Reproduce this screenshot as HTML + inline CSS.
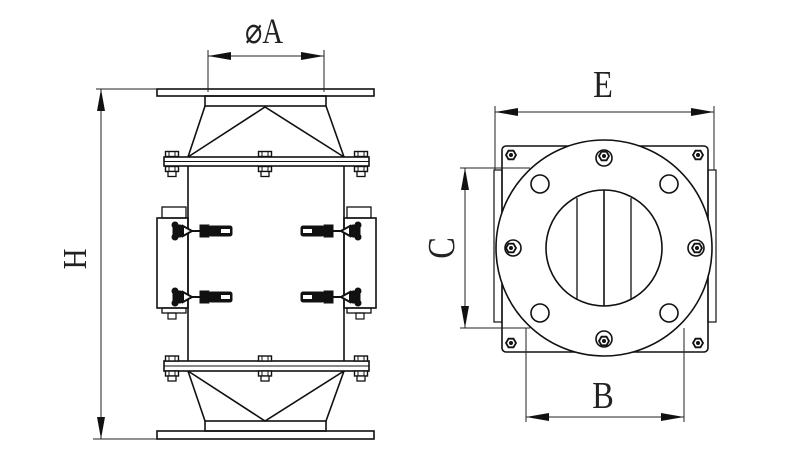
<!DOCTYPE html>
<html><head><meta charset="utf-8"><style>
html,body{margin:0;padding:0;background:#fff;}
svg{display:block;}
text{font-family:"Liberation Serif",serif;fill:#222;}
</style></head><body>
<svg width="800" height="451" viewBox="0 0 800 451" xmlns="http://www.w3.org/2000/svg">
<defs>
<g id="clampL" fill="#111" stroke="#111">
  <rect x="0" y="-6" width="10" height="12" rx="3"/>
  <circle cx="2" cy="-6" r="3"/><circle cx="2" cy="6" r="3"/>
  <path d="M10 -5 L19 0 L10 5 Z" fill="#fff" stroke-width="2"/>
  <line x1="19" y1="0" x2="27" y2="0" stroke-width="2"/>
  <rect x="27" y="-6" width="9" height="12"/>
  <rect x="36" y="-5" width="23" height="10" rx="2"/>
  <rect x="48" y="-2" width="9" height="4" fill="#fff" stroke="none"/>
</g>
<g id="boltV">
  <rect x="-6.5" y="-10" width="13" height="5" fill="#fff" stroke="#111" stroke-width="1.4"/>
  <line x1="-3" y1="-10" x2="-3" y2="-5" stroke="#111" stroke-width="1"/>
  <line x1="3" y1="-10" x2="3" y2="-5" stroke="#111" stroke-width="1"/>
  <rect x="-6.5" y="5" width="13" height="5" fill="#fff" stroke="#111" stroke-width="1.4"/>
  <line x1="-3" y1="5" x2="-3" y2="10" stroke="#111" stroke-width="1"/>
  <line x1="3" y1="5" x2="3" y2="10" stroke="#111" stroke-width="1"/>
  <rect x="-4" y="10" width="8" height="5" fill="#fff" stroke="#111" stroke-width="1.3"/>
</g>
<g id="nut">
  <polygon points="-5,0 -2.5,-4.3 2.5,-4.3 5,0 2.5,4.3 -2.5,4.3" fill="#fff" stroke="#111" stroke-width="1.8"/>
  <circle r="2" fill="#111"/>
</g>
</defs>
<g stroke="#111" fill="none" stroke-width="1.6">
  <rect x="157" y="89" width="217" height="7"/>
  <rect x="205" y="96" width="121" height="10"/>
  <path d="M205 106 L188 157 M326 106 L344 157 M188 157 L265 107 L344 157"/>
  <rect x="164" y="157" width="205" height="9"/>
  <line x1="164" y1="161.5" x2="369" y2="161.5" stroke-width="1"/>
  <line x1="188" y1="166" x2="188" y2="361"/>
  <line x1="344" y1="166" x2="344" y2="361"/>
  <rect x="164" y="361" width="205" height="10"/>
  <line x1="164" y1="366" x2="369" y2="366" stroke-width="1"/>
  <path d="M188 371 L205 421 M344 371 L326 421 M188 371 L265 421 L344 371"/>
  <rect x="205" y="421" width="121" height="10"/>
  <rect x="157" y="431" width="217" height="8"/>
  <rect x="157" y="218" width="31" height="90"/>
  <rect x="162" y="207" width="24" height="11" stroke-width="1.3"/>
  <rect x="344" y="218" width="32" height="90"/>
  <rect x="347" y="207" width="24" height="11" stroke-width="1.3"/>
  <rect x="162" y="308" width="24" height="5" stroke-width="1.3"/>
  <rect x="347" y="308" width="24" height="5" stroke-width="1.3"/>
  <rect x="168" y="313" width="8" height="6" stroke-width="1.2"/>
  <rect x="356" y="313" width="8" height="6" stroke-width="1.2"/>
</g>
<use href="#boltV" x="172" y="161.5"/><use href="#boltV" x="265" y="161.5"/><use href="#boltV" x="361" y="161.5"/>
<use href="#boltV" x="172" y="366"/><use href="#boltV" x="265" y="366"/><use href="#boltV" x="361" y="366"/>
<use href="#clampL" x="173" y="231"/>
<use href="#clampL" x="173" y="297"/>
<use href="#clampL" transform="translate(360,231) scale(-1,1)"/>
<use href="#clampL" transform="translate(360,297) scale(-1,1)"/>

<g stroke="#222" stroke-width="1" fill="none">
  <line x1="208" y1="56" x2="324" y2="56"/>
  <line x1="208" y1="50" x2="208" y2="92"/>
  <line x1="324" y1="50" x2="324" y2="92"/>
  <line x1="96" y1="89" x2="157" y2="89"/>
  <line x1="93" y1="439" x2="157" y2="439"/>
  <line x1="101" y1="89" x2="101" y2="439"/>
</g>
<g fill="#111">
  <polygon points="208,56 231,52 231,60"/><polygon points="324,56 301,52 301,60"/>
  <polygon points="101,89 97,111 105,111"/><polygon points="101,439 97,417 105,417"/>
</g>
<text x="0" y="0" font-size="36" text-anchor="middle" transform="translate(264,43) scale(0.8,1)">⌀A</text>
<text x="0" y="0" font-size="34" text-anchor="middle" transform="translate(86,259) rotate(-90) scale(0.85,1)">H</text>

<g stroke="#111" fill="none" stroke-width="1.6">
  <rect x="502" y="146" width="206" height="206" rx="4"/>
  <rect x="494" y="170" width="8" height="152" stroke-width="1.2"/>
  <rect x="708" y="170" width="8" height="152" stroke-width="1.2"/>
  <circle cx="604" cy="248" r="108" fill="#fff"/>
  <circle cx="604" cy="248" r="58"/>
  <line x1="604" y1="190" x2="604" y2="306"/>
  <line x1="577" y1="198" x2="577" y2="299" stroke-width="1.3"/>
  <line x1="631" y1="198" x2="631" y2="299" stroke-width="1.3"/>
  <circle cx="540" cy="184" r="9"/><circle cx="669" cy="184" r="9"/>
  <circle cx="540" cy="313" r="9"/><circle cx="669" cy="313" r="9"/>
  <circle cx="604" cy="158" r="8"/><circle cx="604" cy="339" r="8"/>
  <circle cx="513" cy="248" r="8"/><circle cx="696" cy="248" r="8"/>
</g>
<use href="#nut" x="604" y="156"/><use href="#nut" x="604" y="341"/>
<use href="#nut" x="511" y="248"/><use href="#nut" x="697" y="248"/>
<use href="#nut" x="511" y="155"/><use href="#nut" x="698" y="155"/>
<use href="#nut" x="511" y="343"/><use href="#nut" x="698" y="343"/>

<g stroke="#222" stroke-width="1" fill="none">
  <line x1="495" y1="112" x2="714" y2="112"/>
  <line x1="495" y1="106" x2="495" y2="170"/>
  <line x1="714" y1="106" x2="714" y2="170"/>
  <line x1="526" y1="417" x2="684" y2="417"/>
  <line x1="526" y1="328" x2="526" y2="422"/>
  <line x1="684" y1="328" x2="684" y2="422"/>
  <line x1="465" y1="168" x2="465" y2="328"/>
  <line x1="460" y1="168" x2="530" y2="168"/>
  <line x1="460" y1="328" x2="530" y2="328"/>
</g>
<g fill="#111">
  <polygon points="495,112 518,108 518,116"/><polygon points="714,112 691,108 691,116"/>
  <polygon points="526,417 549,413 549,421"/><polygon points="684,417 661,413 661,421"/>
  <polygon points="465,168 461,190 469,190"/><polygon points="465,328 461,306 469,306"/>
</g>
<text x="0" y="0" font-size="38" text-anchor="middle" transform="translate(603,97) scale(0.85,1)">E</text>
<text x="0" y="0" font-size="38" text-anchor="middle" transform="translate(603,408) scale(0.85,1)">B</text>
<text x="0" y="0" font-size="38" text-anchor="middle" transform="translate(454,248) rotate(-90) scale(0.85,1)">C</text>
</svg>
</body></html>
